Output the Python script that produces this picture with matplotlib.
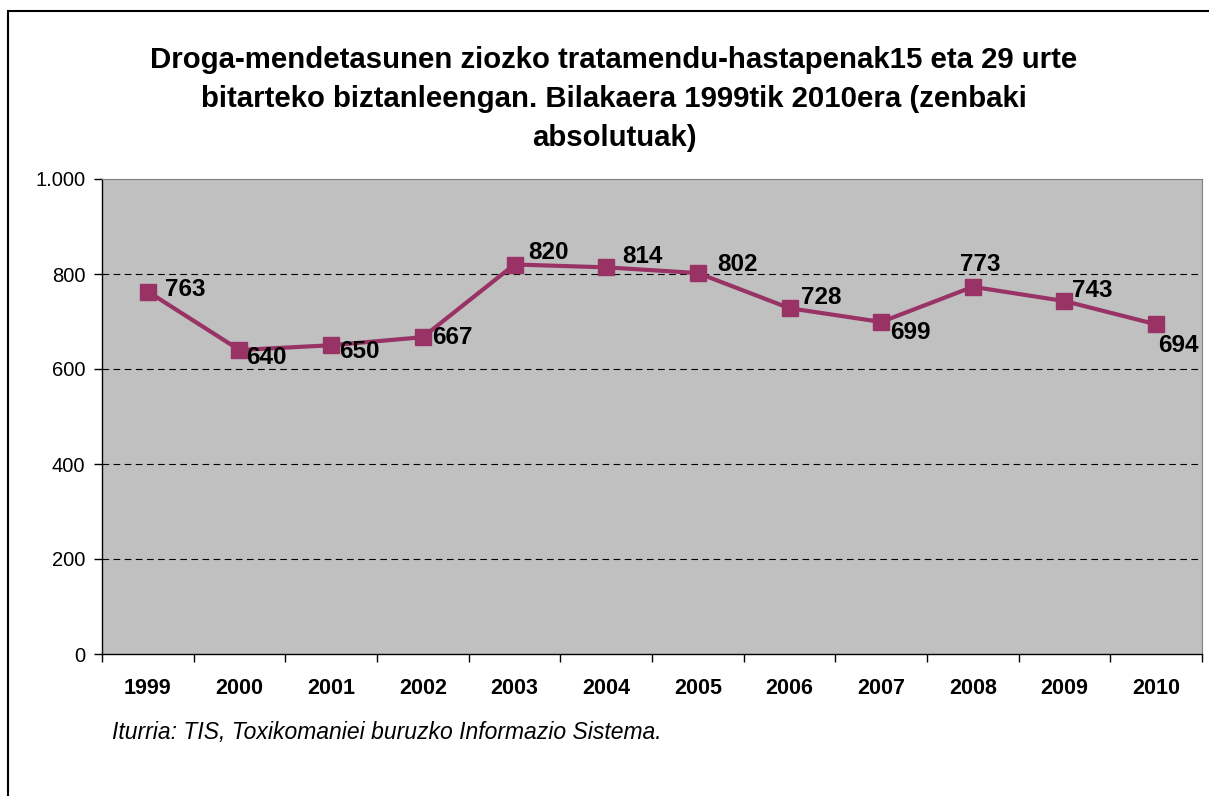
import numpy as np
import matplotlib.pyplot as plt
from matplotlib.patches import Rectangle

plt.rcParams['font.family'] = ['Liberation Sans', 'DejaVu Sans']

years = ['1999', '2000', '2001', '2002', '2003', '2004', '2005', '2006',
         '2007', '2008', '2009', '2010']
values = [763, 640, 650, 667, 820, 814, 802, 728, 699, 773, 743, 694]

# label offsets in pixels (dx, dy) and horizontal alignment
offsets = [(17, 2, 'left'), (7, -8, 'left'), (8, -6, 'left'), (9, 0, 'left'),
           (14, 12, 'left'), (16, 11, 'left'), (19, 9, 'left'), (11, 11, 'left'),
           (9, -11, 'left'), (7, 22, 'center'), (8, 11, 'left'), (2, -21, 'left')]

title = ('Droga-mendetasunen ziozko tratamendu-hastapenak15 eta 29 urte\n'
         'bitarteko biztanleengan. Bilakaera 1999tik 2010era (zenbaki\n'
         'absolutuak)')
source = 'Iturria: TIS, Toxikomaniei buruzko Informazio Sistema.'

line_col = '#993366'

fig = plt.figure(figsize=(12.09, 7.96), dpi=100)
fig.patches.append(Rectangle((8 / 1209, -0.1), 1.2, 1.1 - 11 / 796,
                             transform=fig.transFigure, fill=False,
                             edgecolor='black', linewidth=1.5))
ax = fig.add_axes([102 / 1209, 1 - 654 / 796, 1100 / 1209, 475 / 796])
ax.set_facecolor('#C0C0C0')

x = np.arange(len(years))
ax.plot(x, values, color=line_col, linewidth=3, marker='s', markersize=11,
        markerfacecolor=line_col, markeredgecolor=line_col, zorder=3)

for xi, v, (dx, dy, ha) in zip(x, values, offsets):
    ax.annotate(str(v), (xi, v), xytext=(dx, dy), textcoords='offset pixels',
                ha=ha, va='center', fontsize=17.5, fontweight='bold', zorder=4)

ax.set_xlim(-0.5, len(years) - 0.5)
ax.set_ylim(0, 1000)
ax.set_yticks([0, 200, 400, 600, 800, 1000])
ax.set_yticklabels(['0', '200', '400', '600', '800', '1.000'])
ax.set_xticks(x)
ax.set_xticklabels(years, fontweight='bold')
ax.set_xticks(np.arange(-0.5, len(years)), minor=True)
ax.tick_params(axis='x', which='major', length=0, pad=17, labelsize=15.5)
ax.tick_params(axis='x', which='minor', length=6, width=1, direction='out')
ax.tick_params(axis='y', length=6, width=1, labelsize=14.5, pad=6)

for g in [200, 400, 600, 800]:
    ax.axhline(g, color='black', linestyle=(0, (6, 4)), linewidth=0.8, zorder=1)

ax.spines['top'].set_color('#808080')
ax.spines['right'].set_color('#808080')
ax.spines['left'].set_linewidth(1)
ax.spines['bottom'].set_linewidth(1)

fig.text(614 / 1209, 1 - 99 / 796, title, ha='center', va='center',
         fontsize=21.2, fontweight='bold', linespacing=1.52)
fig.text(112 / 1209, 1 - 733 / 796, source, ha='left', va='center',
         fontsize=16.5, style='italic')

fig.savefig('out.png', dpi=100)
